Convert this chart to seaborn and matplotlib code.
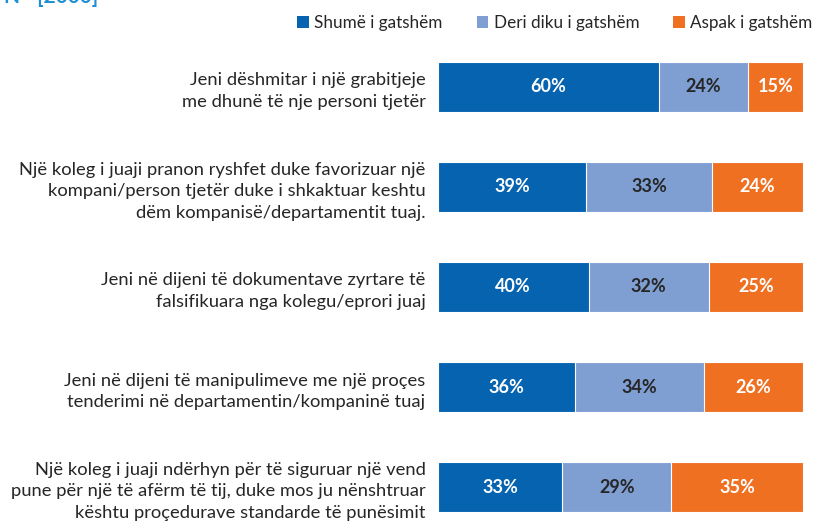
import numpy as np
import pandas as pd
import matplotlib.pyplot as plt
import seaborn as sns
from matplotlib.patches import Patch

# Data
statements = [
    "Jeni dëshmitar i një grabitjeje\nme dhunë të nje personi tjetër",
    "Një koleg i juaji pranon ryshfet duke favorizuar një\nkompani/person tjetër duke i shkaktuar keshtu\ndëm kompanisë/departamentit tuaj.",
    "Jeni në dijeni të dokumentave zyrtare të\nfalsifikuara nga kolegu/eprori juaj",
    "Jeni në dijeni të manipulimeve me një proçes\ntenderimi në departamentin/kompaninë tuaj",
    "Një koleg i juaji ndërhyn për të siguruar një vend\npune për një të afërm të tij, duke mos ju nënshtruar\nkështu proçedurave standarde të punësimit",
]
shume = [60, 39, 40, 36, 33]
deri = [24, 33, 32, 34, 29]
aspak = [15, 24, 25, 26, 35]
series_names = ["Shumë i gatshëm", "Deri diku i gatshëm", "Aspak i gatshëm"]
colors = ["#0563b0", "#7f9fd3", "#f07022"]
label_colors = ["white", "#262626", "white"]

df = pd.DataFrame({"statement": statements, "shume": shume, "deri": deri, "aspak": aspak})
total = df[["shume", "deri", "aspak"]].sum(axis=1)
# Bars are scaled to fill the full width (share of those who answered)
df["p1"] = df["shume"] / total * 100
df["p2"] = df["deri"] / total * 100
df["p3"] = df["aspak"] / total * 100
df["c1"] = df["p1"]
df["c2"] = df["p1"] + df["p2"]
df["c3"] = df["c2"] + df["p3"]

sns.set_style("white")
plt.rcParams["font.family"] = ["Lato", "DejaVu Sans"]

fig = plt.figure(figsize=(8.24, 5.22), dpi=100)
ax = fig.add_axes([438 / 824, 0.0, 365 / 824, 485 / 522])

# Stacked bars drawn back to front (cumulative widths)
for col, color in zip(["c3", "c2", "c1"], colors[::-1]):
    sns.barplot(data=df, x=col, y="statement", orient="h", color=color,
                width=0.5, edgecolor="white", linewidth=0.8, ax=ax,
                saturation=1)

ax.set_xlim(0, 100)
ax.set_ylim(4.35, -0.5)
ax.set_xlabel("")
ax.set_ylabel("")
ax.set_xticks([])
ax.set_yticks(range(len(statements)))
ax.set_yticklabels(statements, fontsize=13.2, color="#262626", linespacing=1.45)
ax.tick_params(axis="y", length=0, pad=9)
sns.despine(ax=ax, left=True, bottom=True)

# Percent labels centred in each segment
for i, row in df.iterrows():
    starts = [0, row["c1"], row["c2"]]
    widths = [row["p1"], row["p2"], row["p3"]]
    vals = [row["shume"], row["deri"], row["aspak"]]
    for s, w, v, tc in zip(starts, widths, vals, label_colors):
        ax.text(s + w / 2, i, f"{v}%", ha="center", va="center",
                fontsize=13, fontweight="bold", color=tc)

handles = [Patch(facecolor=c, edgecolor="none") for c in colors]
fig.legend(handles, series_names, loc="center right", bbox_to_anchor=(1.005, 1 - 23 / 522),
           ncol=3, frameon=False, fontsize=12.3, handlelength=0.7, handleheight=0.7,
           handletextpad=0.3, columnspacing=2.0, labelcolor="#262626")

# Clipped heading at the very top
fig.text(0.005, 1 - 3 / 522, "N= [2000]", fontsize=15, fontweight="bold",
         color="#1e8fd5", va="baseline")

fig.savefig("out.png", dpi=100)
